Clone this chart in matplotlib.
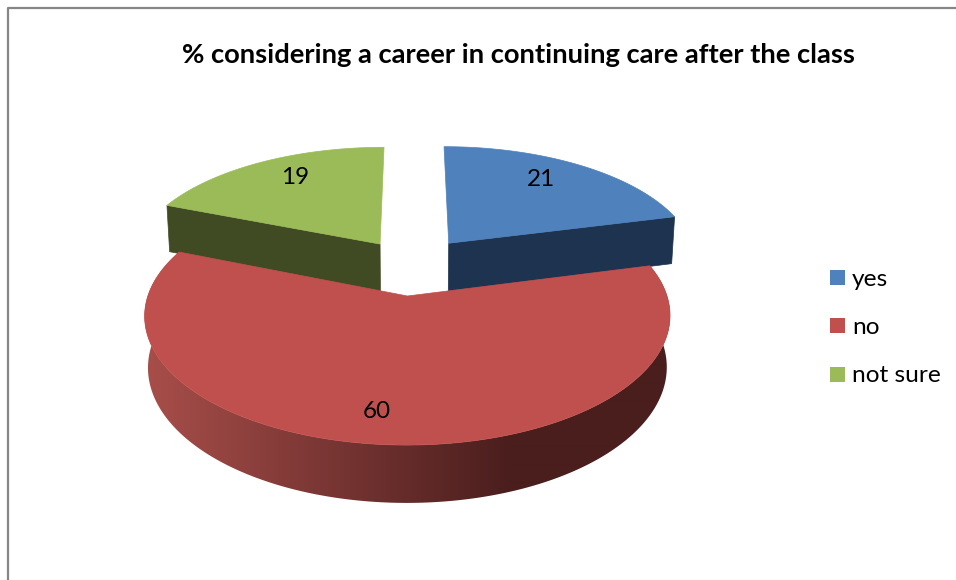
import numpy as np
import matplotlib
matplotlib.use("Agg")
import matplotlib.pyplot as plt
from matplotlib.patches import Polygon, Rectangle

plt.rcParams['font.family'] = ['Lato', 'DejaVu Sans']

title = "% considering a career in continuing care after the class"
labels = ['yes', 'no', 'not sure']
values = [21, 60, 19]
top_colors = ['#4F81BD', '#C0504D', '#9BBB59']
wall_colors = ['#1D334F', '#4A1E1D', '#404B23']

# perspective settings for the tilted pie, in pixels
cx, cy = 411.5, 265.7
rx, ry = 250, 117
depth = 50
k = 0.148
kz = 0.012
explode = [0.25, 0.25, 0.23]


def project(x, y, z=0.0):
    w = 1 + k * y + kz * z
    return cx + rx * x / w, cy - ry * y / w + depth * z / w


fig = plt.figure(figsize=(9.56, 5.8), dpi=100)
ax = fig.add_axes([0, 0, 1, 1])
ax.axis('off')

# chart frame, only left and top are in view
ax.plot([8, 8, 956], [580, 8, 8], color='#868686', lw=1.6, solid_capstyle='butt')

# work out slice angles, clockwise from 12 o'clock
total = sum(values)
starts = []
ends = []
ang = 90.0
for v in values:
    starts.append(ang)
    ang = ang - 360.0 * v / total
    ends.append(ang)

slices = []
for i in range(3):
    mid = np.radians((starts[i] + ends[i]) / 2)
    ox, oy = explode[i] * np.cos(mid), explode[i] * np.sin(mid)
    t = np.radians(np.linspace(starts[i], ends[i], 300))
    slices.append((ox, oy, ox + np.cos(t), oy + np.sin(t)))

# back slices first, the big one goes over them
for i in [0, 2, 1]:
    ox, oy, xs, ys = slices[i]

    if i == 0 or i == 2:
        # flat cut face, last arc point for yes, first arc point for not sure
        e = -1 if i == 0 else 0
        a = project(ox, oy)
        b = project(xs[e], ys[e])
        c = project(xs[e], ys[e], 1)
        d = project(ox, oy, 1)
        ax.add_patch(Polygon([a, b, c, d], fc=wall_colors[i], ec=wall_colors[i], lw=0.5, zorder=1))
    else:
        # outer rim, gradient image clipped to the rim outline
        tx, ty = project(xs, ys)
        bx, by = project(xs, ys, 1)
        rim = Polygon(list(zip(tx, ty)) + list(zip(bx[::-1], by[::-1])), transform=ax.transData, fc='none', ec='none')
        ax.add_patch(rim)
        shade = np.clip((np.arange(956) - 145) / 365.0, 0, 1)
        c1 = np.array([168, 78, 74]) / 255
        c2 = np.array([74, 30, 29]) / 255
        grad = c1[None, None, :] + (c2 - c1)[None, None, :] * shade[None, :, None]
        im = ax.imshow(grad, extent=[0, 956, 580, 0], aspect='auto', zorder=2, interpolation='bilinear')
        im.set_clip_path(rim)

    sx, sy = project(xs, ys)
    apex = project(ox, oy)
    pts = [apex] + list(zip(sx, sy))
    ax.add_patch(Polygon(pts, fc=top_colors[i], ec=top_colors[i], lw=0.5, zorder=3 if i == 1 else 1.5))

ax.set_xlim(0, 956)
ax.set_ylim(580, 0)

ax.text(518, 55, title, fontsize=19.7, fontweight='bold', ha='center', va='center', color='black', zorder=5)

# value labels sit on the top faces
label_pos = [(541, 179), (377, 411), (295, 177)]
for v, (tx, ty) in zip(values, label_pos):
    ax.text(tx, ty, str(v), fontsize=17.5, ha='center', va='center', color='black', zorder=5)

# legend
legend_y = [278, 326, 375]
for lab, col, ly in zip(labels, top_colors, legend_y):
    ax.add_patch(Rectangle((830, ly - 8), 15, 15, fc=col, ec='none'))
    ax.text(852, ly + 1, lab, fontsize=17.6, ha='left', va='center', color='black')

fig.savefig('out.png', dpi=100)
